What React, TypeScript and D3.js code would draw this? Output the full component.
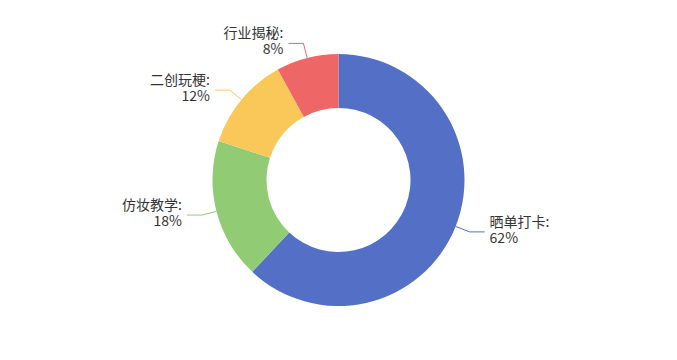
import React from "react";
import * as d3 from "d3";

const categories = ["晒单打卡", "仿妆教学", "二创玩梗", "行业揭秘"];
const values = [62, 18, 12, 8];
const colors = ["#5470c6", "#91cc75", "#fac858", "#ee6666"];

const W = 677;
const H = 360;

export default function App() {
  const cx = W / 2;
  const cy = H / 2;
  const minDim = Math.min(W, H) / 2;
  const outerR = minDim * 0.7;
  const innerR = minDim * 0.4;
  const len1 = 15;
  const len2 = 15;

  const total = d3.sum(values);
  const pie = d3
    .pie<number>()
    .sort(null)
    .value((d) => d);
  const arcs = pie(values);
  const arcGen = d3
    .arc<d3.PieArcDatum<number>>()
    .innerRadius(innerR)
    .outerRadius(outerR);

  return (
    <svg
      width={W}
      height={H}
      style={{ position: "absolute", left: 0, top: 0, background: "#fff" }}
      fontFamily="'Noto Sans CJK SC', 'Noto Sans', sans-serif"
    >
      <g transform={`translate(${cx},${cy})`}>
        {arcs.map((a, i) => (
          <path key={"s" + i} d={arcGen(a) || ""} fill={colors[i]} />
        ))}
        {arcs.map((a, i) => {
          const mid = (a.startAngle + a.endAngle) / 2;
          const sx = Math.sin(mid);
          const sy = -Math.cos(mid);
          const x1 = sx * outerR;
          const y1 = sy * outerR;
          const x2 = sx * (outerR + len1);
          const y2 = sy * (outerR + len1);
          const right = sx >= 0;
          const x3 = x2 + (right ? len2 : -len2);
          const tx = x3 + (right ? 5 : -5);
          const pct = Math.round((values[i] / total) * 100);
          return (
            <g key={"l" + i}>
              <polyline
                points={`${x1},${y1} ${x2},${y2} ${x3},${y2}`}
                fill="none"
                stroke={colors[i]}
                strokeWidth={1}
              />
              <text
                x={tx}
                y={y2 - 5}
                fontSize={14}
                fill="#333"
                textAnchor={right ? "start" : "end"}
              >
                {categories[i] + ":"}
              </text>
              <text
                x={tx}
                y={y2 + 11}
                fontSize={14}
                fill="#333"
                textAnchor={right ? "start" : "end"}
              >
                {pct + "%"}
              </text>
            </g>
          );
        })}
      </g>
    </svg>
  );
}
